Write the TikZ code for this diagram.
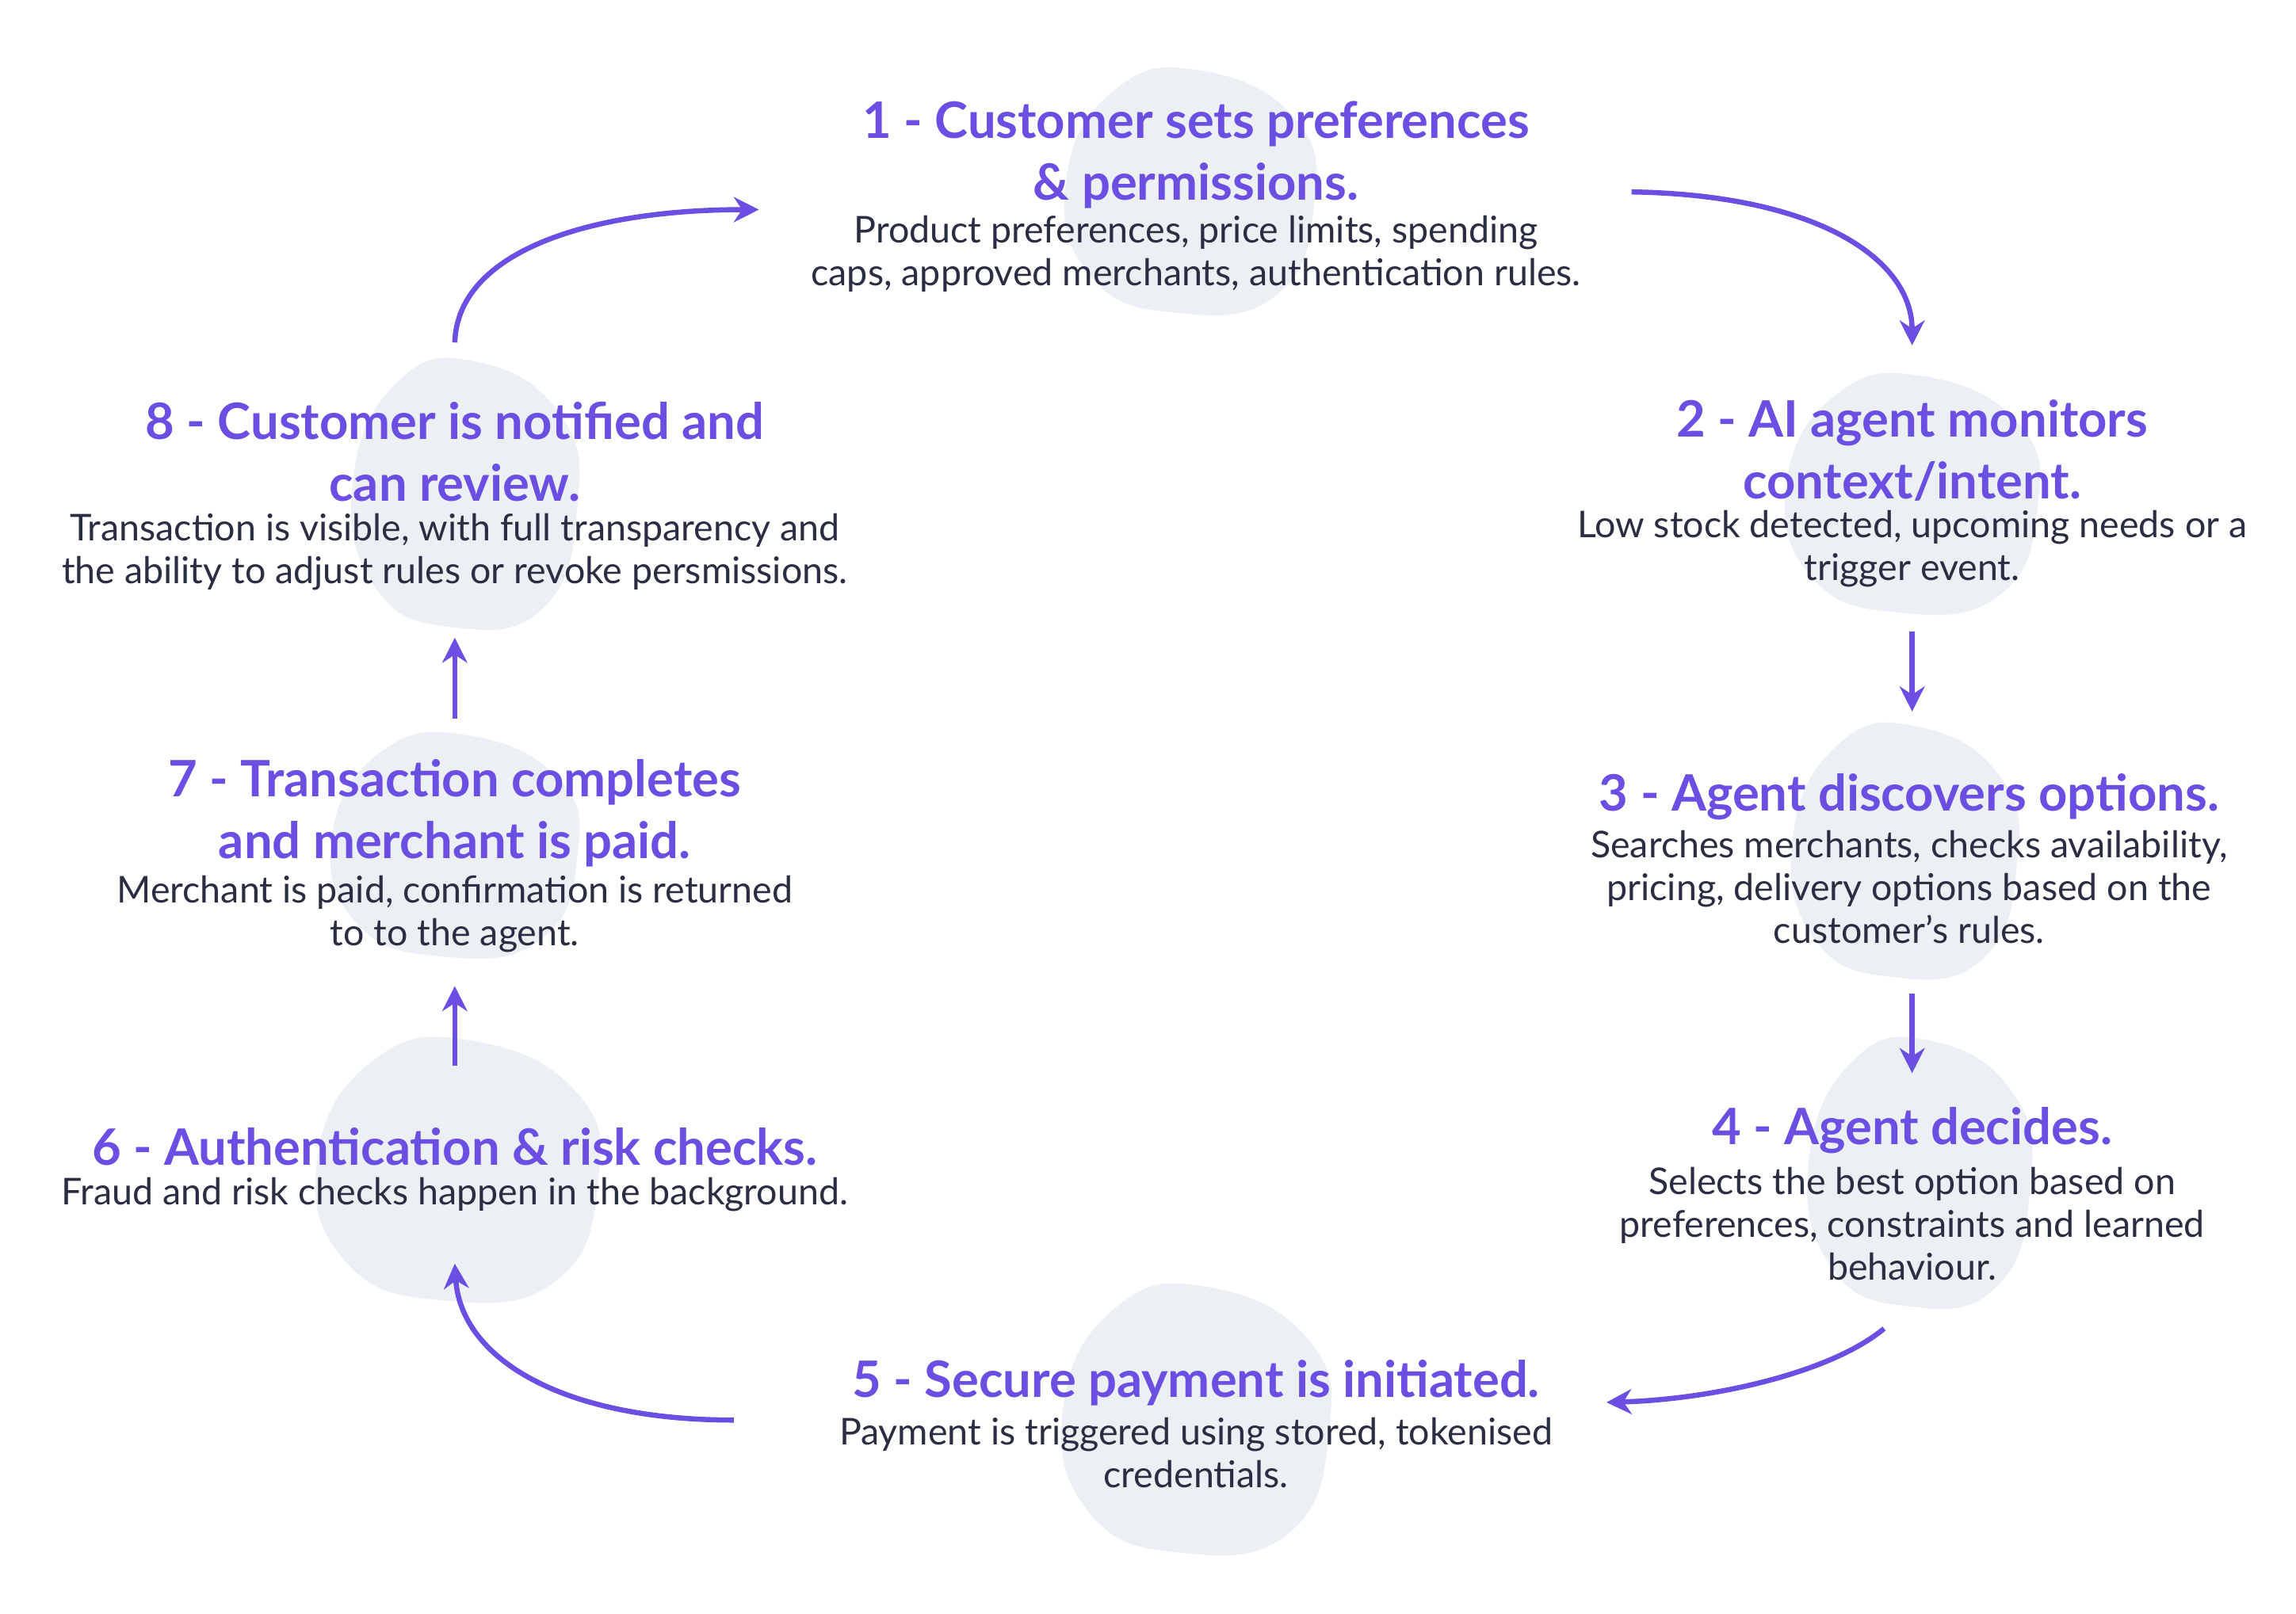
\documentclass[tikz,border=0pt]{standalone}
\usepackage{fontspec}
\setmainfont{Lato}
\usetikzlibrary{arrows.meta,positioning}
\definecolor{flowpurple}{HTML}{6B4FE2}
\definecolor{bodyink}{HTML}{2B2D42}
\definecolor{blobgrey}{HTML}{ECF0F4}
\newcommand{\drawblob}[4]{%
  \fill[blobgrey] plot[smooth cycle, tension=0.8] coordinates {
    ({#1+#3},{#2+0.1*#4}) ({#1+0.7*#3},{#2+0.85*#4}) ({#1-0.1*#3},{#2+#4})
    ({#1-0.8*#3},{#2+0.7*#4}) ({#1-#3},{#2-0.1*#4}) ({#1-0.6*#3},{#2-0.85*#4})
    ({#1+0.1*#3},{#2-#4}) ({#1+0.85*#3},{#2-0.6*#4})};}
\begin{document}
\begin{tikzpicture}[
        x=1pt, y=-1pt,
        title/.style = {align=center, text=flowpurple, font=\fontsize{34}{42}\selectfont\bfseries, inner sep=0pt},
        body/.style = {align=center, text=bodyink, font=\fontsize{25}{29}\selectfont, inner sep=0pt},
        flow/.style = {draw=flowpurple, line width=3.5pt, -{Stealth[length=17pt, width=17pt]}},
      ]
      \useasboundingbox (0,0) rectangle (1555,1093);

      % background blobs
      \drawblob{806}{130}{84}{82}
      \drawblob{1295}{335}{85}{80}
      \drawblob{1290}{577}{76}{85}
      \drawblob{1300}{795}{75}{90}
      \drawblob{810}{962}{90}{90}
      \drawblob{310}{793}{95}{88}
      \drawblob{308}{573}{83}{75}
      \drawblob{315}{335}{76}{90}

      % steps
      \node[title] (t1) at (810,105) {1 - Customer sets preferences\\ \& permissions.};
      \node[body] (b1) at (810,172) {Product preferences, price limits, spending\\ caps, approved merchants, authentication rules.};
      \node[title] (t2) at (1295,305) {2 - AI agent monitors\\ context/intent.};
      \node[body] (b2) at (1295,372) {Low stock detected, upcoming needs or a\\ trigger event.};
      \node[title] (t3) at (1293,540) {3 - Agent discovers options.};
      \node[body] (b3) at (1293,601) {Searches merchants, checks availability,\\ pricing, delivery options based on the\\ customer's rules.};
      \node[title] (t4) at (1295,766) {4 - Agent decides.};
      \node[body] (b4) at (1295,829) {Selects the best option based on\\ preferences, constraints and learned\\ behaviour.};
      \node[title] (t5) at (810,937) {5 - Secure payment is initiated.};
      \node[body] (b5) at (810,984) {Payment is triggered using stored, tokenised\\ credentials.};
      \node[title] (t6) at (308,777) {6 - Authentication \& risk checks.};
      \node[body] (b6) at (308,809) {Fraud and risk checks happen in the background.};
      \node[title] (t7) at (308,551) {7 - Transaction completes\\ and merchant is paid.};
      \node[body] (b7) at (308,619) {Merchant is paid, confirmation is returned\\ to to the agent.};
      \node[title] (t8) at (308,306) {8 - Customer is notified and\\ can review.};
      \node[body] (b8) at (308,374) {Transaction is visible, with full transparency and\\ the ability to adjust rules or revoke persmissions.};

      % connector ends
      \coordinate (a1) at (1105,130);  \coordinate (a2) at (1295,234);
      \coordinate (a3) at (1295,428);  \coordinate (a4) at (1295,482);
      \coordinate (a5) at (1295,673);  \coordinate (a6) at (1295,727);
      \coordinate (a7) at (1276,900);  \coordinate (a8) at (1088,950);
      \coordinate (a9) at (497,962);   \coordinate (a10) at (308,856);
      \coordinate (a11) at (308,722);  \coordinate (a12) at (308,668);
      \coordinate (a13) at (308,487);  \coordinate (a14) at (308,432);
      \coordinate (a15) at (308,232);  \coordinate (a16) at (514,142);

      \draw[flow] (a1) .. controls (1230,132) and (1295,175) .. (a2);
      \draw[flow] (a3) -- (a4);
      \draw[flow] (a5) -- (a6);
      \draw[flow] (a7) .. controls (1240,930) and (1160,948) .. (a8);
      \draw[flow] (a9) .. controls (380,962) and (312,920) .. (a10);
      \draw[flow] (a11) -- (a12);
      \draw[flow] (a13) -- (a14);
      \draw[flow] (a15) .. controls (310,170) and (400,142) .. (a16);

    \end{tikzpicture}
\end{document}
